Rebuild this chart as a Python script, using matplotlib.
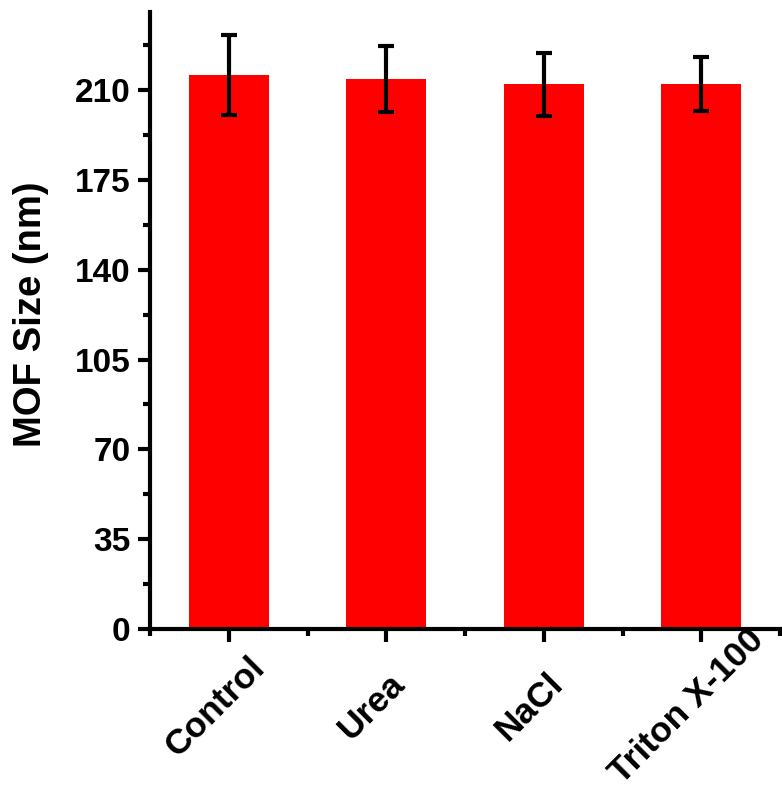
import matplotlib
matplotlib.use('Agg')
import matplotlib.pyplot as plt
import matplotlib.transforms as mtransforms
import numpy as np
from matplotlib.ticker import MultipleLocator

# data
categories = ['Control', 'Urea', 'NaCl', 'Triton X-100']
mof_size   = [215.8, 214.3, 212.3, 212.4]
size_err   = [15.5, 12.9, 12.3, 10.4]

plt.rcParams['font.family'] = ['Liberation Sans', 'DejaVu Sans']
plt.rcParams['font.weight'] = 'bold'

fig = plt.figure(figsize=(7.82, 7.99), dpi=100)
ax = fig.add_axes([150/782, 1 - 629/799, 630/782, 617/799])

x = np.arange(len(categories))
ax.bar(x, mof_size, 0.51, color='#ff0000', edgecolor='none', zorder=2)
ax.errorbar(x, mof_size, yerr=size_err, fmt='none', ecolor='black',
            elinewidth=3, capsize=6, capthick=3, zorder=3)

ax.set_xlim(-0.5, 3.5)
ax.set_ylim(0, 240.4)
ax.yaxis.set_major_locator(MultipleLocator(35))
ax.yaxis.set_minor_locator(MultipleLocator(17.5))
ax.set_xticks(x)
ax.set_xticks(np.arange(-0.5, 4, 1.0), minor=True)
ax.set_xticklabels(categories, rotation=45, ha='center', va='center',
                   rotation_mode='anchor', fontsize=25.5, fontweight='bold')
for lab in ax.get_yticklabels():
    lab.set_fontweight('bold')
ax.tick_params(axis='y', labelsize=24, width=3, length=9, pad=5)
ax.tick_params(axis='y', which='minor', width=3, length=5)
ax.tick_params(axis='x', which='major', width=3, length=9, pad=47)
ax.tick_params(axis='x', which='minor', width=3, length=5)

# shift rotated category labels a little left, like the original
shift = mtransforms.ScaledTranslation(-0.14, 0, fig.dpi_scale_trans)
for lab in ax.get_xticklabels():
    lab.set_transform(lab.get_transform() + shift)

ax.set_ylabel('MOF Size (nm)', fontsize=27.5, fontweight='bold')
ax.yaxis.set_label_coords(-0.16, 0.51)

for side in ('top', 'right'):
    ax.spines[side].set_visible(False)
for side in ('left', 'bottom'):
    ax.spines[side].set_linewidth(3)

fig.savefig('out.png', dpi=100)
